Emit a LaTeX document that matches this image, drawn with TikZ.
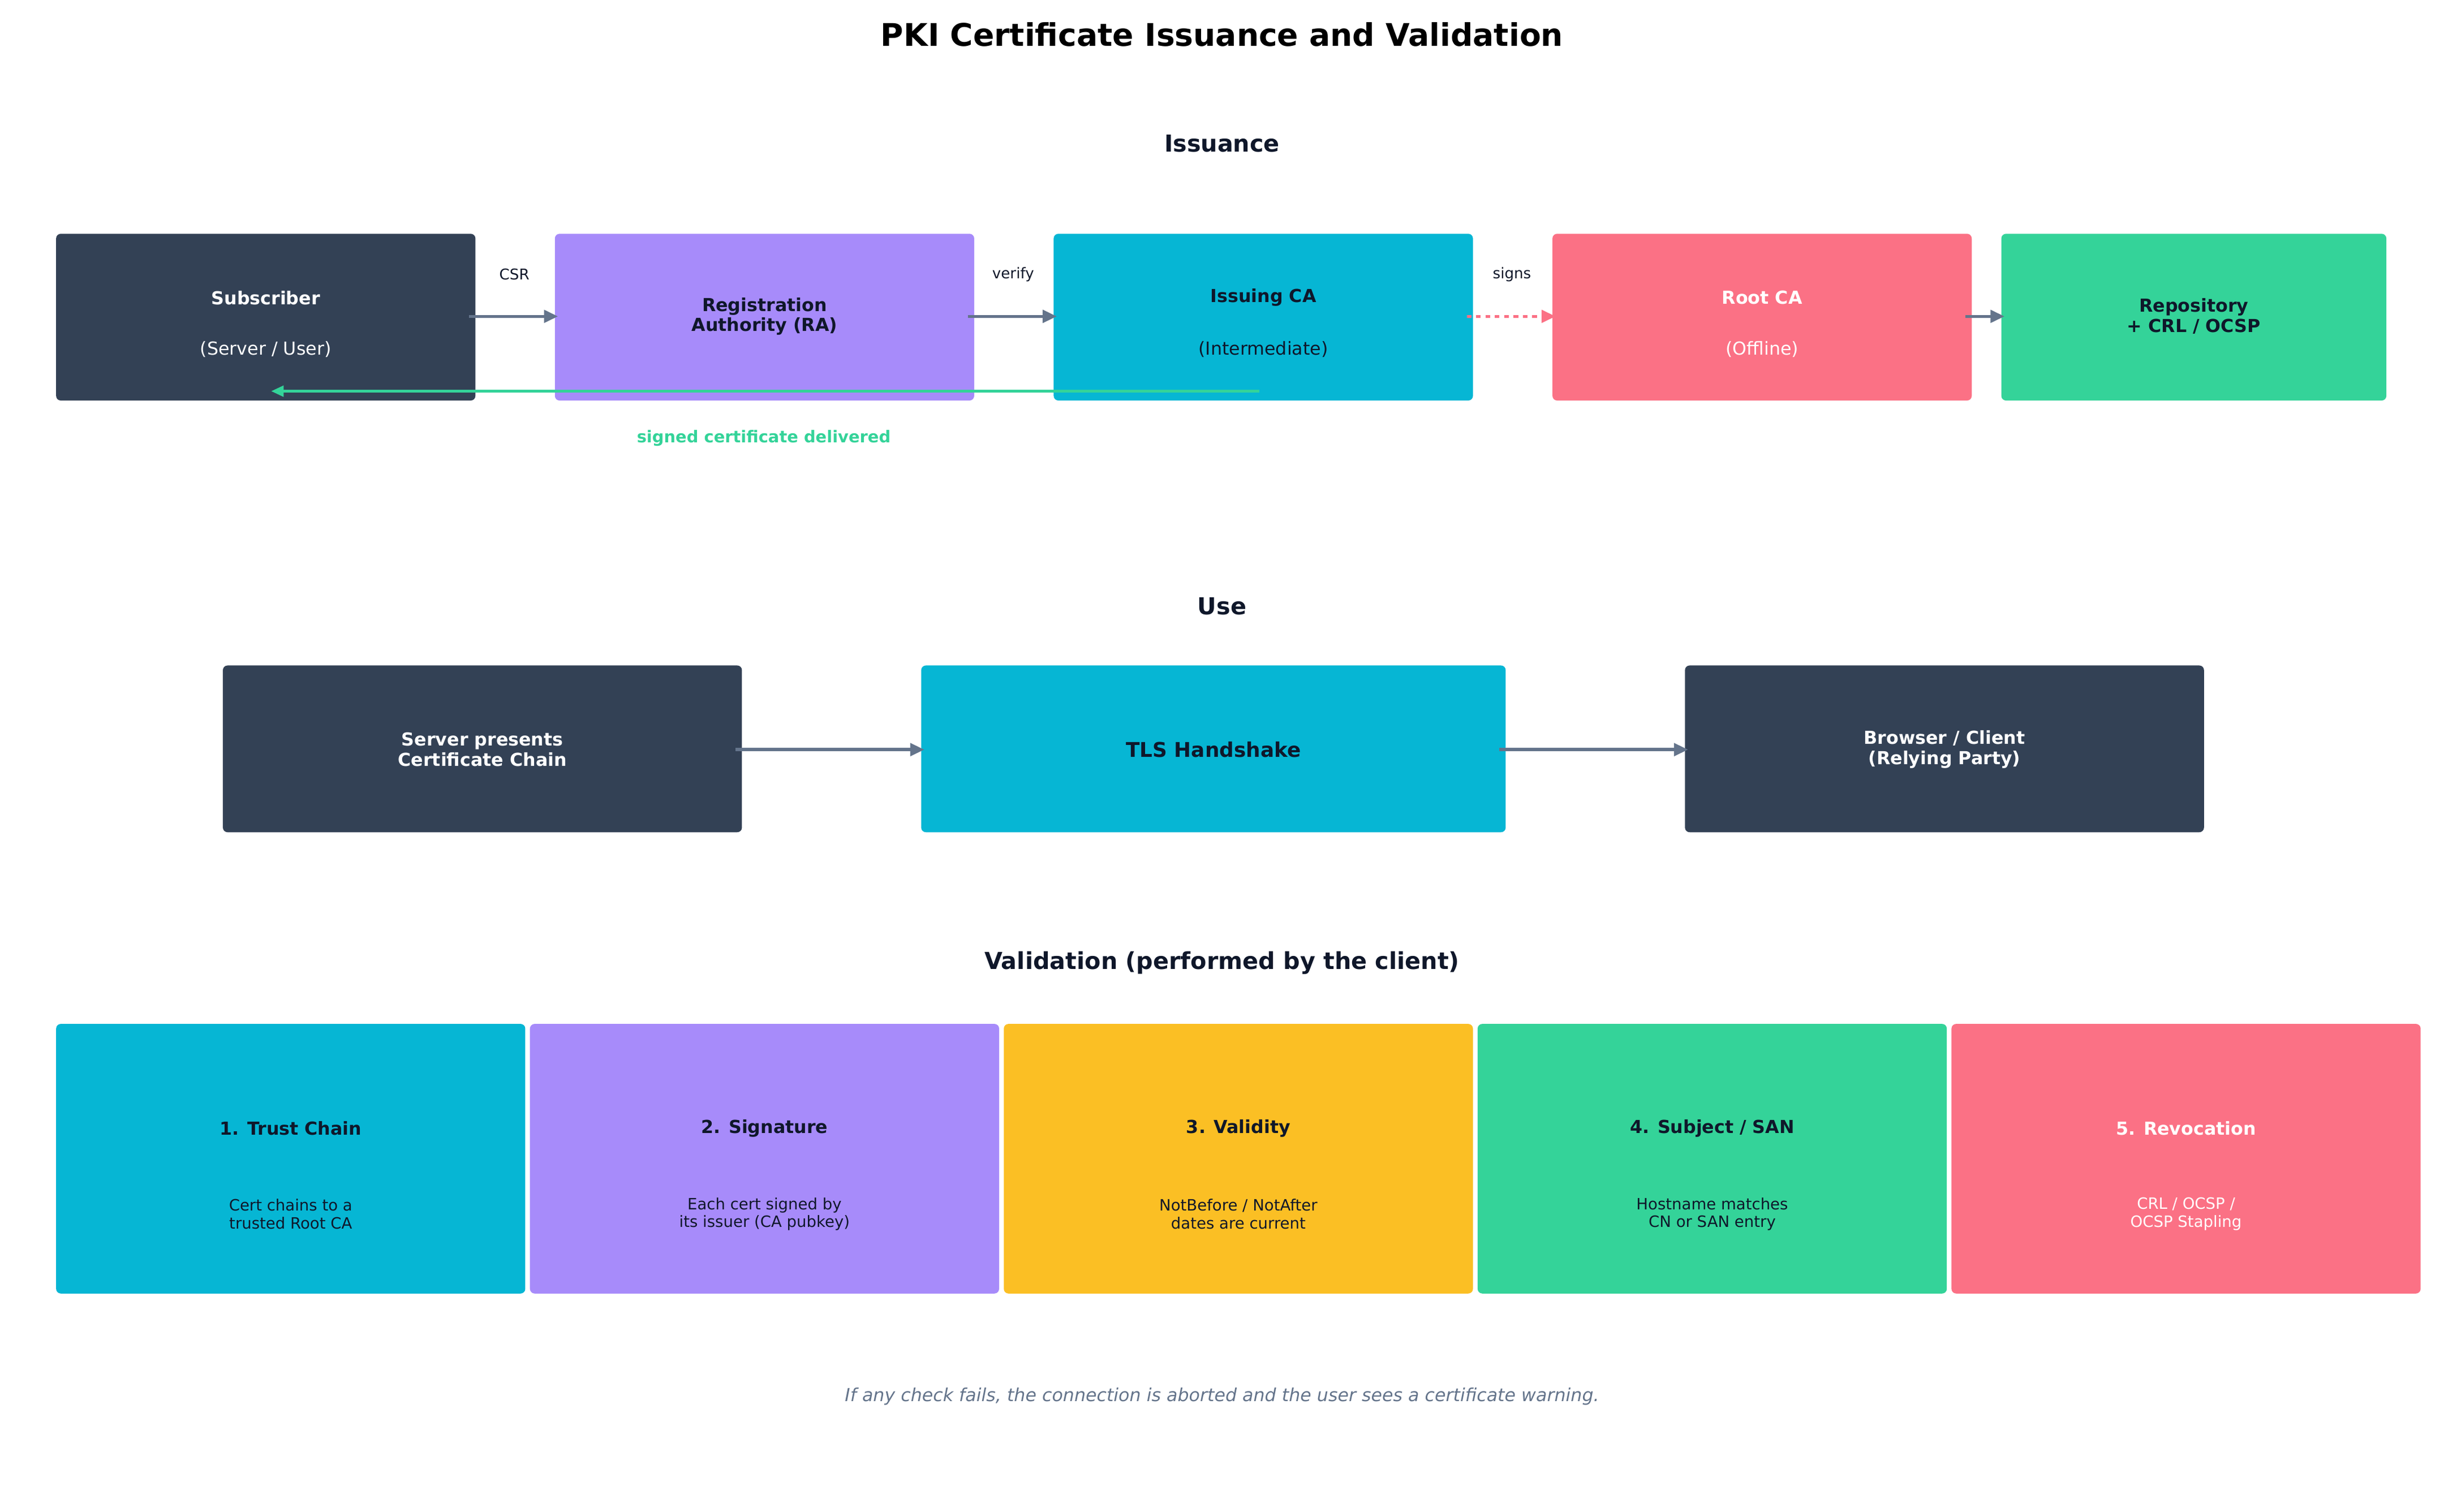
\documentclass[tikz,border=0pt]{standalone}
\usepackage{fontspec}
\setmainfont{DejaVu Sans}
\usetikzlibrary{arrows.meta}
\definecolor{cdark}{HTML}{334155}
\definecolor{cpur}{HTML}{A78BFA}
\definecolor{ccyan}{HTML}{06B6D4}
\definecolor{cpink}{HTML}{FB7185}
\definecolor{cgreen}{HTML}{34D399}
\definecolor{cyel}{HTML}{FBBF24}
\definecolor{cink}{HTML}{0F172A}
\definecolor{cgray}{HTML}{64748B}
\tikzset{
 bx/.style={rounded corners=3pt, draw=none},
 arr/.style={-{Triangle[length=9pt,width=8pt]}, line width=2pt, draw=cgray},
 hdr/.style={font=\fontsize{15}{18}\selectfont\bfseries, text=cink},
 lbl/.style={font=\fontsize{9.5}{11}\selectfont, text=cink},
 bt/.style={font=\fontsize{11.5}{13}\selectfont\bfseries, align=center},
 st/.style={font=\fontsize{11.5}{13}\selectfont, align=center},
 vd/.style={font=\fontsize{10}{11.5}\selectfont, align=center},
}
\begin{document}
\begin{tikzpicture}[x=1pt,y=-1pt]
\useasboundingbox (0,0) rectangle (1568,970);
\node[font=\fontsize{20}{24}\selectfont\bfseries] (title) at (784,22) {PKI Certificate Issuance and Validation};
\node[hdr] (h1) at (784,92) {Issuance};
% row 1
\fill[bx,cdark] (36,150) rectangle (305,257);
\fill[bx,cpur] (356,150) rectangle (625,257);
\fill[bx,ccyan] (676,150) rectangle (945,257);
\fill[bx,cpink] (996,150) rectangle (1265,257);
\fill[bx,cgreen] (1284,150) rectangle (1531,257);
\coordinate (sub) at (170.5,203); \coordinate (ra) at (490.5,203);
\coordinate (ica) at (810.5,203); \coordinate (rca) at (1130.5,203);
\coordinate (rep) at (1407.5,203);
\node[bt,text=white] (subt) at (170.5,191) {Subscriber};
\node[st,text=white] (subs) at (170.5,224) {(Server / User)};
\node[bt,text=cink] (rat) at (490.5,203) {Registration\\Authority (RA)};
\node[bt,text=cink] (icat) at (810.5,191) {Issuing CA};
\node[st,text=cink] (icas) at (810.5,224) {(Intermediate)};
\node[bt,text=white] (rcat) at (1130.5,191) {Root CA};
\node[st,text=white] (rcas) at (1130.5,224) {(Offline)};
\node[bt,text=cink] (rept) at (1407.5,203) {Repository\\+ CRL / OCSP};
\coordinate (a1s) at (301,203); \coordinate (a1e) at (358,203);
\coordinate (a2s) at (621,203); \coordinate (a2e) at (678,203);
\coordinate (a3s) at (941,203); \coordinate (a3e) at (998,203);
\coordinate (a4s) at (1261,203); \coordinate (a4e) at (1286,203);
\draw[arr] (a1s) -- (a1e);
\draw[arr] (a2s) -- (a2e);
\draw[arr,draw=cpink,dashed] (a3s) -- (a3e);
\draw[arr] (a4s) -- (a4e);
\node[lbl] (l1) at (330,176) {CSR};
\node[lbl] (l2) at (650,176) {verify};
\node[lbl] (l3) at (970,176) {signs};
\coordinate (gs) at (808,251); \coordinate (ge) at (174,251);
\draw[-{Triangle[length=8pt,width=7pt]},line width=1.5pt,draw=cgreen] (gs) -- (ge);
\node[font=\fontsize{10.5}{12}\selectfont\bfseries,text=cgreen] (gl) at (490,281) {signed certificate delivered};
% row 2
\node[hdr] (h2) at (784,389) {Use};
\fill[bx,cdark] (143,427) rectangle (476,534);
\fill[bx,ccyan] (591,427) rectangle (966,534);
\fill[bx,cdark] (1081,427) rectangle (1414,534);
\node[bt,text=white] (u1) at (309.5,481) {Server presents\\Certificate Chain};
\node[font=\fontsize{13}{15}\selectfont\bfseries,text=cink] (u2) at (778.5,481) {TLS Handshake};
\node[bt,text=white] (u3) at (1247.5,481) {Browser / Client\\(Relying Party)};
\coordinate (b1s) at (472,481); \coordinate (b1e) at (593,481);
\coordinate (b2s) at (962,481); \coordinate (b2e) at (1083,481);
\draw[arr] (b1s) -- (b1e);
\draw[arr] (b2s) -- (b2e);
% row 3
\node[hdr] (h3) at (784,618) {Validation (performed by the client)};
\foreach \x/\c/\tc/\t/\d [count=\i] in {
 36/ccyan/cink/{1. Trust Chain}/{Cert chains to a\\trusted Root CA},
 340/cpur/cink/{2. Signature}/{Each cert signed by\\its issuer (CA pubkey)},
 644/cyel/cink/{3. Validity}/{NotBefore / NotAfter\\dates are current},
 948/cgreen/cink/{4. Subject / SAN}/{Hostname matches\\CN or SAN entry},
 1252/cpink/white/{5. Revocation}/{CRL / OCSP /\\OCSP Stapling}} {
 \fill[bx,\c] (\x,657) rectangle ({\x+301},830);
 \node[bt,text=\tc] (v\i) at ({\x+150.5},724) {\t};
 \node[vd,text=\tc] (d\i) at ({\x+150.5},779) {\d};
}
\node[font=\fontsize{11.5}{13}\selectfont\itshape,text=cgray] (foot) at (784,896) {If any check fails, the connection is aborted and the user sees a certificate warning.};
\end{tikzpicture}
\end{document}
